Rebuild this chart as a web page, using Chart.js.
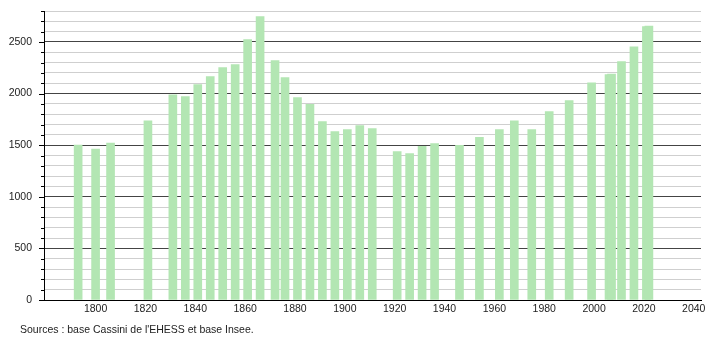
<!DOCTYPE html>
<html>
<head>
<meta charset="utf-8">
<script src="https://cdn.jsdelivr.net/npm/chart.js@4/dist/chart.umd.min.js"></script>
<style>
  body { margin: 0; background: #fff; }
  #wrap { width: 710px; height: 340px; position: relative; }
</style>
</head>
<body>
<div id="wrap"><canvas id="myChart" width="710" height="340"></canvas></div>
<script>
// census years and population
const years = [1793, 1800, 1806, 1821, 1831, 1836, 1841, 1846, 1851, 1856,
  1861, 1866, 1872, 1876, 1881, 1886, 1891, 1896, 1901, 1906,
  1911, 1921, 1926, 1931, 1936, 1946, 1954, 1962, 1968, 1975,
  1982, 1990, 1999, 2006, 2007, 2011, 2016, 2021, 2022];
const population = [1500, 1462, 1520, 1737, 1989, 1970, 2086, 2164, 2251, 2280,
  2522, 2745, 2319, 2154, 1960, 1896, 1728, 1631, 1650, 1689,
  1660, 1437, 1418, 1488, 1515, 1498, 1576, 1650, 1737, 1650,
  1825, 1931, 2105, 2183, 2190, 2309, 2454, 2648, 2655];
const xTickLabels = [1800, 1820, 1840, 1860, 1880, 1900, 1920, 1940, 1960, 1980, 2000, 2020, 2040];
const sourceText = "Sources : base Cassini de l'EHESS et base Insee.";

let points = [];
for (let i = 0; i < years.length; i++) {
  points.push({x: years[i], y: population[i]});
}

// small tick marks on the y axis (long ones every 500)
const yTickMarks = {
  id: 'yTickMarks',
  afterDraw(chart) {
    const ctx = chart.ctx;
    const ys = chart.scales.y;
    ctx.save();
    ctx.strokeStyle = '#000';
    ctx.lineWidth = 1;
    for (let t of ys.ticks) {
      let py = Math.round(ys.getPixelForValue(t.value)) + 0.5;
      let len = (t.value % 500 === 0) ? 5 : 3;
      ctx.beginPath();
      ctx.moveTo(ys.right - len, py);
      ctx.lineTo(ys.right, py);
      ctx.stroke();
    }
    ctx.restore();
  }
};

const sourceNote = {
  id: 'sourceNote',
  afterDraw(chart) {
    const ctx = chart.ctx;
    ctx.save();
    ctx.fillStyle = '#222';
    ctx.font = '10.5px "Liberation Sans", Arial, sans-serif';
    ctx.textBaseline = 'middle';
    ctx.fillText(sourceText, 20, 330);
    ctx.restore();
  }
};

const config = {
  type: 'bar',
  data: {
    datasets: [{
      label: 'Population',
      data: points,
      backgroundColor: '#b3e6b3',
      borderWidth: 0,
      barThickness: 8
    }]
  },
  options: {
    responsive: false,
    animation: false,
    layout: { padding: { top: 11, right: 9, bottom: 0, left: 0 } },
    plugins: {
      legend: { display: false },
      tooltip: { enabled: false }
    },
    scales: {
      x: {
        type: 'linear',
        offset: false,
        min: 1779.3,
        max: 2042.9,
        grid: { display: false },
        border: { display: true, color: '#000', width: 1 },
        afterBuildTicks: function(scale) {
          scale.ticks = xTickLabels.map(v => ({value: v}));
        },
        afterFit: function(scale) {
          scale.height = 40;
          scale.paddingLeft = 0;
          scale.paddingRight = 0;
        },
        ticks: {
          padding: -5,
          color: '#222',
          maxRotation: 0,
          autoSkip: false,
          font: { family: '"Liberation Sans", Arial, sans-serif', size: 10.5 },
          callback: v => String(v)
        }
      },
      y: {
        min: 0,
        max: 2800,
        afterFit: function(scale) {
          scale.width = 44;
          scale.paddingTop = 0;
          scale.paddingBottom = 0;
        },
        border: { display: true, color: '#000', width: 1 },
        grid: {
          drawTicks: false,
          color: ctx => (ctx.tick && ctx.tick.value % 500 === 0) ? '#444' : '#cfcfcf',
          lineWidth: 1
        },
        ticks: {
          stepSize: 100,
          autoSkip: false,
          padding: 12,
          color: '#222',
          font: { family: '"Liberation Sans", Arial, sans-serif', size: 10.5 },
          callback: v => (v % 500 === 0) ? String(v) : ''
        }
      }
    }
  },
  plugins: [yTickMarks, sourceNote]
};

const myChart = new Chart(document.getElementById('myChart'), config);
</script>
</body>
</html>
